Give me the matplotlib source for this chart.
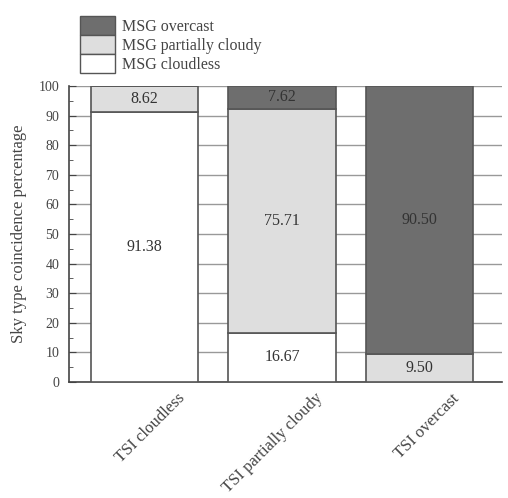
import matplotlib.pyplot as plt
import numpy as np
from matplotlib.patches import Patch
from matplotlib.transforms import ScaledTranslation

# Data
categories = ["TSI cloudless", "TSI partially cloudy", "TSI overcast"]
msg_cloudless = [91.38, 16.67, 0.0]
msg_partly = [8.62, 75.71, 9.50]
msg_overcast = [0.0, 7.62, 90.50]

plt.rcParams['font.family'] = ['Liberation Serif', 'DejaVu Serif']

px = 1 / 100
fig = plt.figure(figsize=(508 * px, 498 * px), dpi=100)
ax = fig.add_axes([69 / 508, 1 - 382 / 498, (502 - 69) / 508, (382 - 86) / 498])

x = np.arange(len(categories))
w = 0.78
edge = '#555555'
c_clear, c_part, c_over = 'white', '#dedede', '#6e6e6e'

bottom2 = np.array(msg_cloudless) + np.array(msg_partly)
ax.bar(x, msg_cloudless, w, color=c_clear, edgecolor=edge, linewidth=1.2, zorder=3)
ax.bar(x, msg_partly, w, bottom=msg_cloudless, color=c_part, edgecolor=edge, linewidth=1.2, zorder=3)
ax.bar(x, msg_overcast, w, bottom=bottom2, color=c_over, edgecolor=edge, linewidth=1.2, zorder=3)

# value labels
for i in range(len(categories)):
    segs = [(0, msg_cloudless[i]), (msg_cloudless[i], msg_partly[i]), (bottom2[i], msg_overcast[i])]
    for b, v in segs:
        if v > 0:
            ax.text(x[i], b + v / 2, "%.2f" % v, ha='center', va='center', fontsize=11.5, color='#333333', zorder=4)

ax.set_ylim(0, 100)
ax.set_xlim(-0.55, 2.6)
ax.set_yticks(np.arange(0, 101, 10))
ax.set_yticks(np.arange(5, 100, 10), minor=True)
ax.tick_params(axis='y', direction='in', labelsize=10, colors='#444444', length=5, pad=7)
ax.tick_params(axis='y', which='minor', direction='in', length=3, colors='#444444')
ax.yaxis.grid(True, color='#999999', linewidth=1.0, zorder=0)
ax.set_axisbelow(True)
ax.set_ylabel("Sky type coincidence percentage", fontsize=12, color='#444444', labelpad=8)

ax.set_xticks(x)
ax.set_xticklabels(categories, rotation=45, ha='right', rotation_mode='anchor', fontsize=12, color='#444444')
ax.tick_params(axis='x', length=0, pad=6)
offset = ScaledTranslation(32 / 100, 0, fig.dpi_scale_trans)
for lab in ax.get_xticklabels():
    lab.set_transform(lab.get_transform() + offset)

ax.spines['right'].set_visible(False)
ax.spines['top'].set_visible(False)
ax.spines['left'].set_color('#444444')
ax.spines['bottom'].set_color('#444444')
ax.spines['left'].set_linewidth(1.2)
ax.spines['bottom'].set_linewidth(1.2)

handles = [Patch(facecolor=c_over, edgecolor=edge, label="MSG overcast"),
           Patch(facecolor=c_part, edgecolor=edge, label="MSG partially cloudy"),
           Patch(facecolor=c_clear, edgecolor=edge, label="MSG cloudless")]
fig.legend(handles=handles, loc='upper left', bbox_to_anchor=(72 / 508, 1 - 8 / 498),
           frameon=False, fontsize=11.5, handlelength=2.2, handleheight=1.45,
           labelspacing=0.0, handletextpad=0.4, borderpad=0, labelcolor='#444444')

fig.savefig("out.png", dpi=100)
